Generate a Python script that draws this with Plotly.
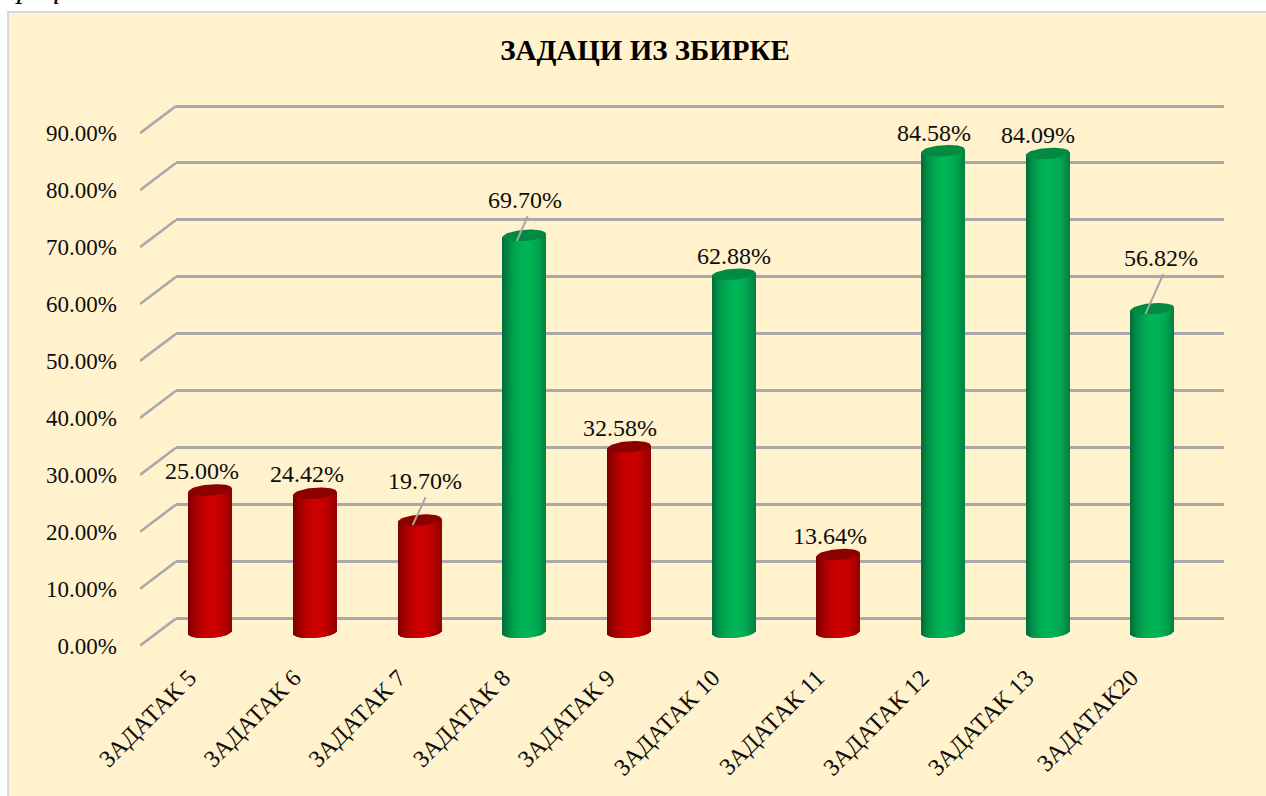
import numpy as np
import plotly.graph_objects as go

CATEGORIES = ["ЗАДАТАК 5", "ЗАДАТАК 6", "ЗАДАТАК 7", "ЗАДАТАК 8", "ЗАДАТАК 9",
              "ЗАДАТАК 10", "ЗАДАТАК 11", "ЗАДАТАК 12", "ЗАДАТАК 13", "ЗАДАТАК20"]
VALUES = [25.00, 24.42, 19.70, 69.70, 32.58, 62.88, 13.64, 84.58, 84.09, 56.82]
TICKS = [0, 10, 20, 30, 40, 50, 60, 70, 80, 90]
TITLE = "ЗАДАЦИ ИЗ ЗБИРКЕ"

W, H = 1266, 796
FONT = "Liberation Serif"
PX_PER_UNIT = 5.694
STEP = 104.67
CX0 = 210.3
Y_BACK0, Y_FRONT0, Y_BAR0 = 618.5, 645.7, 632.3
X_FRONT, X_BACK, X_END = 140, 176, 1224
HALF_W, CAP_H, TILT = 21.6, 5.6, 1.6
N_STRIPS = 44

LABEL_SHIFT = [(-8, 19), (-8, 19), (5, 39), (1, 35), (-9, 19),
               (0, 18), (-8, 19), (-9, 18), (-10, 18), (9, 51)]
LEADERS = {2: (-7, -5, 6, 23), 3: (-7.6, -5.6, 3.4, 19.4), 9: (-7, -5.3, 11, 34.7)}


def yrange(y0):
    return [-(H - y0) / PX_PER_UNIT, y0 / PX_PER_UNIT]


def lerp(c1, c2, f):
    return "rgb(%d,%d,%d)" % tuple(round(a + (b - a) * f) for a, b in zip(c1, c2))


def body_color(good, t):
    edge, mid = ((0, 112, 60), (0, 180, 86)) if good else ((125, 0, 0), (204, 0, 0))
    f = min(1.0, abs(t - 0.1) / 1.05)
    return lerp(mid, edge, f ** 2.0)


fig = go.Figure()

fig.add_trace(go.Scatter(x=[0], y=[0], mode="markers", marker=dict(opacity=0),
                         hoverinfo="skip", showlegend=False, xaxis="x", yaxis="y"))

depth = (Y_FRONT0 - Y_BACK0) / PX_PER_UNIT
dx, dy = [], []
for t in TICKS:
    dx += [0, 1, None]
    dy += [t, t + depth, None]
fig.add_trace(go.Scatter(x=dx, y=dy, mode="lines", line=dict(color="#a9a9a9", width=2.6),
                         hoverinfo="skip", showlegend=False, xaxis="x2", yaxis="y2",
                         cliponaxis=False))

xs, bases, heights, offs, cols = [], [], [], [], []
half = HALF_W / STEP
sw = 2 * half / N_STRIPS
for i, v in enumerate(VALUES):
    for k in range(N_STRIPS):
        t = -1 + (2 * k + 1) / N_STRIPS
        lean = TILT * t / PX_PER_UNIT
        sag = CAP_H * np.sqrt(1 - t * t) / PX_PER_UNIT
        b = lean - sag
        xs.append(i)
        bases.append(b)
        heights.append(v + lean - b)
        offs.append(-half + k * sw)
        cols.append(body_color(v >= 50, t))
fig.add_trace(go.Bar(x=xs, y=heights, base=bases, offset=offs, width=sw * 1.1,
                     marker=dict(color=cols, line=dict(width=0)),
                     hoverinfo="skip", showlegend=False, xaxis="x3", yaxis="y3",
                     cliponaxis=False))

th = np.linspace(0, 2 * np.pi, 73)
for i, v in enumerate(VALUES):
    c = np.cos(th)
    fig.add_trace(go.Scatter(
        x=i + half * c,
        y=v + (TILT * c + CAP_H * np.sin(th)) / PX_PER_UNIT,
        mode="lines", fill="toself", line=dict(width=0),
        fillcolor="#008a42" if v >= 50 else "#8c0000",
        hoverinfo="skip", showlegend=False, xaxis="x3", yaxis="y3", cliponaxis=False))

annotations = [
    dict(x=i, y=v, xref="x3", yref="y3", text=f"{v:.2f}%", showarrow=False,
         xshift=LABEL_SHIFT[i][0], yshift=LABEL_SHIFT[i][1],
         xanchor="center", yanchor="middle", font=dict(family=FONT, size=24, color="#0d0d0d"))
    for i, v in enumerate(VALUES)
]
annotations.append(dict(x=13 / W, y=1 - 6 / H, xref="paper", yref="paper", text="<i>рафикон 5</i>",
                        showarrow=False, xanchor="left", yanchor="bottom",
                        font=dict(family=FONT, size=30, color="#000")))

shapes = [dict(type="rect", xref="paper", yref="paper", x0=8 / W, x1=1.01, y0=-0.01, y1=1 - 12 / H,
               fillcolor="#FFF2CC", line=dict(color="#d9d9d9", width=2), layer="below")]
for i, (a, b, c, d) in LEADERS.items():
    shapes.append(dict(type="line", xref="x3", yref="y3", xsizemode="pixel", ysizemode="pixel",
                       xanchor=i, yanchor=VALUES[i], x0=a, y0=b, x1=c, y1=d,
                       line=dict(color="#a6a6a6", width=2)))

x3_range = [(X_FRONT - CX0) / STEP, (X_END - CX0) / STEP]

fig.update_layout(
    width=W, height=H, margin=dict(l=0, r=0, t=0, b=0, autoexpand=False), autosize=False,
    paper_bgcolor="#ffffff", plot_bgcolor="rgba(0,0,0,0)",
    barmode="overlay", showlegend=False,
    title=dict(text=f"<b>{TITLE}</b>", x=645 / W, y=1 - 50 / H, xanchor="center", yanchor="middle",
               xref="paper", yref="paper", font=dict(family=FONT, size=29, color="#000")),
    xaxis=dict(domain=[X_BACK / W, X_END / W], range=[-1, 1], visible=False),
    yaxis=dict(domain=[0, 1], range=yrange(Y_BACK0), tickvals=TICKS, showgrid=True,
               gridcolor="#a9a9a9", gridwidth=2.6, showticklabels=False, zeroline=False,
               showline=False, ticks="", anchor="x"),
    xaxis2=dict(domain=[X_FRONT / W, X_BACK / W], range=[0, 1], visible=False),
    yaxis2=dict(domain=[0, 1], range=yrange(Y_FRONT0), tickvals=TICKS,
                ticktext=[f"{t:.2f}%" for t in TICKS], showgrid=False, zeroline=False,
                showline=False, ticks="", anchor="x2", ticklabelstandoff=22,
                tickfont=dict(family=FONT, size=23, color="#0d0d0d")),
    xaxis3=dict(domain=[X_FRONT / W, X_END / W], range=x3_range, tickvals=list(range(len(CATEGORIES))),
                ticktext=CATEGORIES, tickangle=-45, showgrid=False, zeroline=False, showline=False,
                ticks="", anchor="free", position=(H - 658) / H, ticklabelshift=-21,
                tickfont=dict(family=FONT, size=24, color="#0d0d0d")),
    yaxis3=dict(domain=[0, 1], range=yrange(Y_BAR0), visible=False, anchor="x3"),
    annotations=annotations,
    shapes=shapes,
)

fig.write_html("out.html", config=dict(displayModeBar=False),
               post_script="document.body.style.margin='0';document.body.style.overflow='hidden';")
